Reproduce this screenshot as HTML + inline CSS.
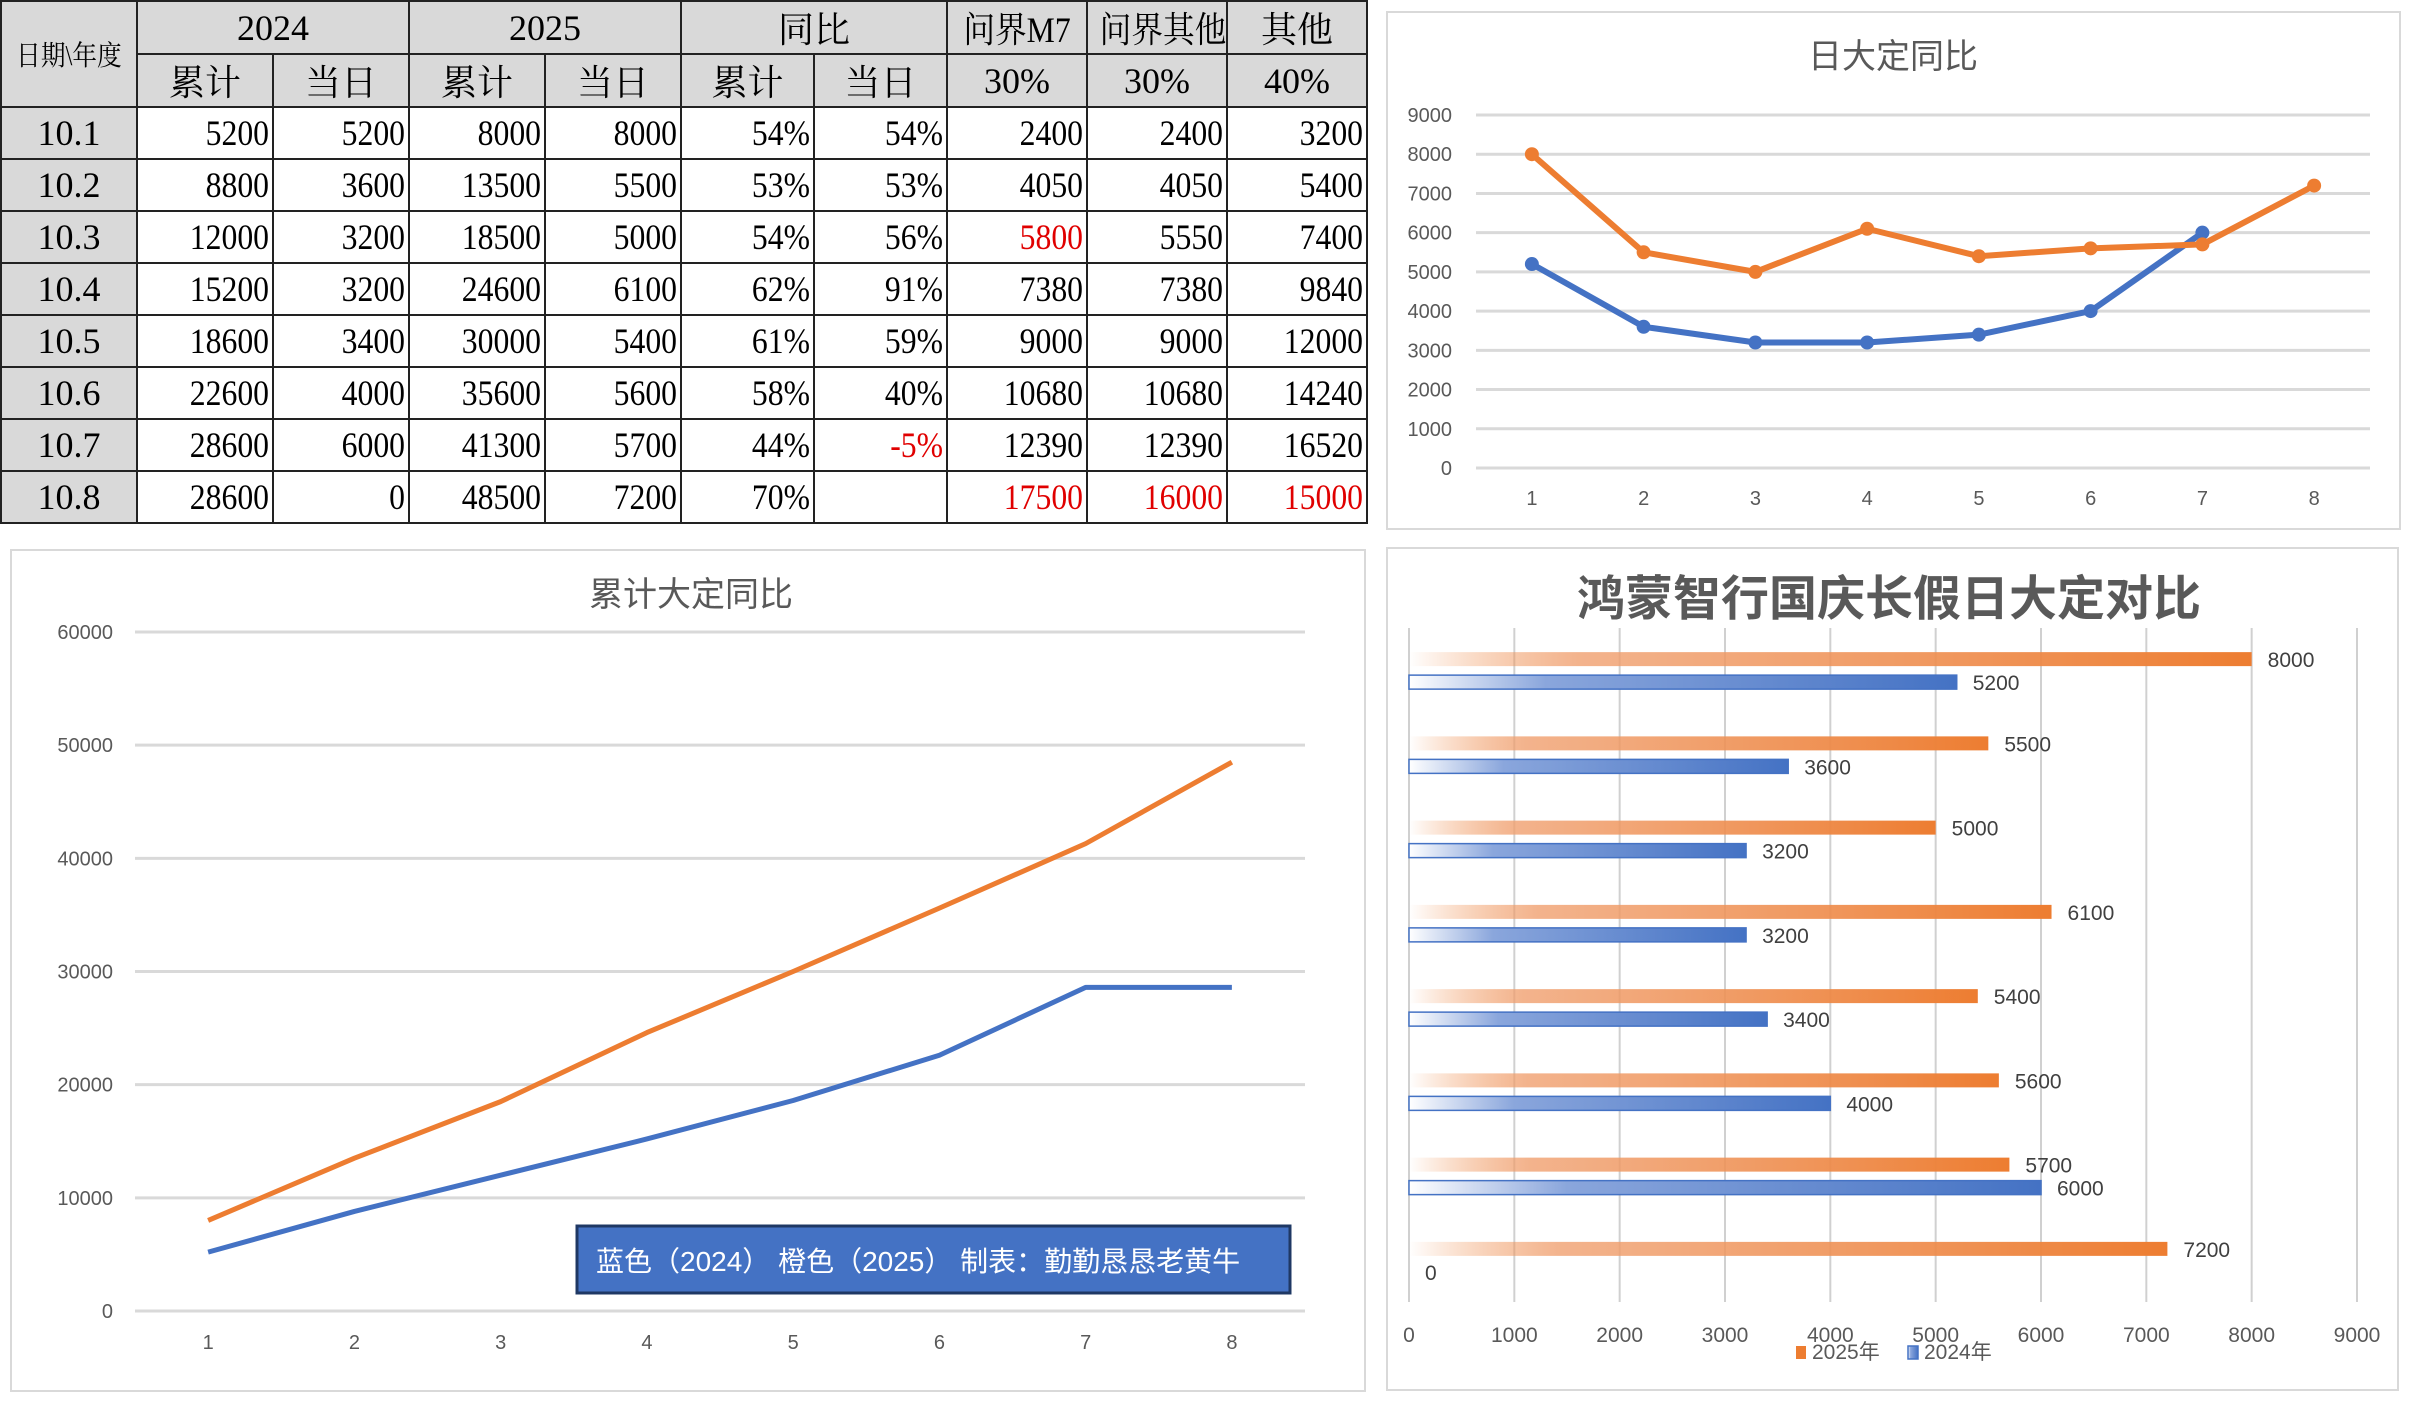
<!DOCTYPE html>
<html><head><meta charset="utf-8">
<style>
html,body{margin:0;padding:0;background:#fff;width:2417px;height:1405px;overflow:hidden;position:relative;font-family:"Liberation Sans","Noto Sans CJK SC",sans-serif}
table{position:absolute;left:0;top:0;border-collapse:collapse;table-layout:fixed;width:1366px;font-family:"Liberation Serif","Noto Serif CJK SC",serif;font-size:36px;color:#000}
tr{height:52px}
td{border:2px solid #222;height:50px;padding:0 3px;text-align:right;white-space:nowrap;overflow:hidden;box-sizing:border-box}
td span{display:inline-block;transform:scaleX(0.88);transform-origin:right center}
td.h{background:#d9d9d9;text-align:center}
td.h span{transform-origin:center center}
td.r{color:#e00000}
svg{position:absolute;left:0;top:0}
</style></head><body>
<table>
<colgroup><col style="width:136px"><col style="width:136px"><col style="width:136px"><col style="width:136px"><col style="width:136px"><col style="width:133px"><col style="width:133px"><col style="width:140px"><col style="width:140px"><col style="width:140px"></colgroup>
<tr><td class="h" rowspan="2" style="font-size:28px"><span>日期\年度</span></td><td class="h" colspan="2">2024</td><td class="h" colspan="2">2025</td><td class="h" colspan="2">同比</td><td class="h"><span>问界M7</span></td><td class="h"><span>问界其他</span></td><td class="h">其他</td></tr>
<tr><td class="h">累计</td><td class="h">当日</td><td class="h">累计</td><td class="h">当日</td><td class="h">累计</td><td class="h">当日</td><td class="h">30%</td><td class="h">30%</td><td class="h">40%</td></tr>
<tr><td class="h">10.1</td><td><span>5200</span></td><td><span>5200</span></td><td><span>8000</span></td><td><span>8000</span></td><td><span>54%</span></td><td><span>54%</span></td><td><span>2400</span></td><td><span>2400</span></td><td><span>3200</span></td></tr>
<tr><td class="h">10.2</td><td><span>8800</span></td><td><span>3600</span></td><td><span>13500</span></td><td><span>5500</span></td><td><span>53%</span></td><td><span>53%</span></td><td><span>4050</span></td><td><span>4050</span></td><td><span>5400</span></td></tr>
<tr><td class="h">10.3</td><td><span>12000</span></td><td><span>3200</span></td><td><span>18500</span></td><td><span>5000</span></td><td><span>54%</span></td><td><span>56%</span></td><td class="r"><span>5800</span></td><td><span>5550</span></td><td><span>7400</span></td></tr>
<tr><td class="h">10.4</td><td><span>15200</span></td><td><span>3200</span></td><td><span>24600</span></td><td><span>6100</span></td><td><span>62%</span></td><td><span>91%</span></td><td><span>7380</span></td><td><span>7380</span></td><td><span>9840</span></td></tr>
<tr><td class="h">10.5</td><td><span>18600</span></td><td><span>3400</span></td><td><span>30000</span></td><td><span>5400</span></td><td><span>61%</span></td><td><span>59%</span></td><td><span>9000</span></td><td><span>9000</span></td><td><span>12000</span></td></tr>
<tr><td class="h">10.6</td><td><span>22600</span></td><td><span>4000</span></td><td><span>35600</span></td><td><span>5600</span></td><td><span>58%</span></td><td><span>40%</span></td><td><span>10680</span></td><td><span>10680</span></td><td><span>14240</span></td></tr>
<tr><td class="h">10.7</td><td><span>28600</span></td><td><span>6000</span></td><td><span>41300</span></td><td><span>5700</span></td><td><span>44%</span></td><td class="r"><span>-5%</span></td><td><span>12390</span></td><td><span>12390</span></td><td><span>16520</span></td></tr>
<tr><td class="h">10.8</td><td><span>28600</span></td><td><span>0</span></td><td><span>48500</span></td><td><span>7200</span></td><td><span>70%</span></td><td></td><td class="r"><span>17500</span></td><td class="r"><span>16000</span></td><td class="r"><span>15000</span></td></tr>
</table>
<svg id="s" width="2417" height="1405">
<defs>
<linearGradient id="go" x1="0" x2="1"><stop offset="0" stop-color="#ed7d31" stop-opacity="0"/><stop offset="0.2" stop-color="#f0a070" stop-opacity="0.8"/><stop offset="1" stop-color="#ed7d31"/></linearGradient>
<linearGradient id="gb" x1="0" x2="1"><stop offset="0" stop-color="#fff"/><stop offset="0.25" stop-color="#8aa6dc"/><stop offset="1" stop-color="#4472c4"/></linearGradient>
</defs>
</svg>
<script>
const cats=[1,2,3,4,5,6,7,8];
const daily2024=[5200,3600,3200,3200,3400,4000,6000];
const daily2025=[8000,5500,5000,6100,5400,5600,5700,7200];
const cum2024=[5200,8800,12000,15200,18600,22600,28600,28600];
const cum2025=[8000,13500,18500,24600,30000,35600,41300,48500];
const bar2024=[5200,3600,3200,3200,3400,4000,6000,0];
const bar2025=[8000,5500,5000,6100,5400,5600,5700,7200];
const dailyTicks=[0,1000,2000,3000,4000,5000,6000,7000,8000,9000];
const cumTicks=[0,10000,20000,30000,40000,50000,60000];
const barTicks=[0,1000,2000,3000,4000,5000,6000,7000,8000,9000];
const S=document.getElementById('s');const NS='http://www.w3.org/2000/svg';
function mk(t,a,txt){const e=document.createElementNS(NS,t);for(const k in a)e.setAttribute(k,a[k]);if(txt!==undefined)e.textContent=txt;S.appendChild(e);return e;}
let f;
f=mk('rect',{x:1387,y:12,width:1013,height:517,fill:'#fff',stroke:'#d9d9d9','stroke-width':2});


f=mk('rect',{x:11,y:550,width:1354,height:841,fill:'#fff',stroke:'#d9d9d9','stroke-width':2});


f=mk('rect',{x:1387,y:548,width:1011,height:842,fill:'#fff',stroke:'#d9d9d9','stroke-width':2});


function lineChart(o){
 const x=i=>o.x0+(o.x1-o.x0)/cats.length*(i+0.5);
 const y=v=>o.yb-(v/o.max)*(o.yb-o.yt);
 let t=mk('text',{x:o.tx,y:o.ty,'font-size':o.tfs,fill:'#595959','text-anchor':'middle'},o.title);
 
 
 o.ticks.forEach(v=>{
  const g=mk('line',{x1:o.x0,x2:o.x1,y1:y(v),y2:y(v),stroke:'#d9d9d9','stroke-width':3});
  
  
  const l=mk('text',{x:o.lx,y:y(v)+7,'font-size':o.fs,fill:'#595959','text-anchor':'end'},String(v));
  
  
 });
 cats.forEach((c,i)=>{const l=mk('text',{x:x(i),y:o.xly,'font-size':o.fs,fill:'#595959','text-anchor':'middle'},String(c));
  
  });
 o.series.forEach(s=>{
  const p=mk('polyline',{points:s.d.map((v,i)=>x(i)+','+y(v)).join(' '),fill:'none',stroke:s.c,'stroke-width':o.sw,'stroke-linejoin':'round'});
  
  
  if(o.markers)s.d.forEach((v,i)=>{const m=mk('circle',{cx:x(i),cy:y(v),r:7,fill:s.c});
   
   });
 });
}
lineChart({name:'daily',title:'日大定同比',tx:1893,ty:68,tfs:34,x0:1476,x1:2370,yt:115,yb:468,max:9000,ticks:dailyTicks,lx:1452,xly:505,fs:20,sw:6,markers:true,
 series:[{d:daily2024,c:'#4472c4',n:'line-2024-daily'},{d:daily2025,c:'#ed7d31',n:'line-2025-daily'}]});
lineChart({name:'cumulative',title:'累计大定同比',tx:691,ty:606,tfs:34,x0:135,x1:1305,yt:632,yb:1311,max:60000,ticks:cumTicks,lx:113,xly:1349,fs:20,sw:5,markers:false,
 series:[{d:cum2024,c:'#4472c4',n:'line-2024-cumulative'},{d:cum2025,c:'#ed7d31',n:'line-2025-cumulative'}]});
let bx=mk('rect',{x:577,y:1226,width:713,height:67,fill:'#4472c4',stroke:'#1f3864','stroke-width':3});


let bt=mk('text',{x:596,y:1271,'font-size':28,fill:'#fff'},'蓝色（2024） 橙色（2025） 制表：勤勤恳恳老黄牛');


(function(){
 const X0=1409,X1=2357,YT=628,YB=1302,MAX=9000;
 const x=v=>X0+(v/MAX)*(X1-X0);
 const band=(YB-YT)/bar2025.length;
 let t=mk('text',{x:1889,y:615,'font-size':48,'font-weight':'bold',fill:'#595959','text-anchor':'middle'},'鸿蒙智行国庆长假日大定对比');
 
 
 barTicks.forEach(v=>{
  const g=mk('line',{x1:x(v),x2:x(v),y1:YT,y2:YB,stroke:'#d0d0d0','stroke-width':2});
  
  
  const l=mk('text',{x:x(v),y:1342,'font-size':21,fill:'#595959','text-anchor':'middle'},String(v));
  
  
 });
 bar2025.forEach((v,i)=>{
  const c=YT+band*(i+0.5);
  const b=mk('rect',{x:X0,y:c-18,width:x(v)-X0,height:14,fill:'url(#go)'});
  
  
  const l=mk('text',{x:x(v)+16,y:c-3,'font-size':21,fill:'#404040'},String(v));
  
  
  const w=bar2024[i];
  if(w>0){const b2=mk('rect',{x:X0,y:c+5,width:x(w)-X0,height:14,fill:'url(#gb)',stroke:'#4472c4','stroke-width':1.5});
   
   }
  const l2=mk('text',{x:x(w)+16,y:c+20,'font-size':21,fill:'#404040'},String(w));
  
  
 });
 let r=mk('rect',{x:1796,y:1346,width:10,height:13,fill:'#ed7d31'});
 
 
 let lt=mk('text',{x:1812,y:1359,'font-size':21,fill:'#595959'},'2025年');
 
 
 r=mk('rect',{x:1908,y:1346,width:10,height:13,fill:'url(#gb)',stroke:'#4472c4','stroke-width':1.5});
 
 
 lt=mk('text',{x:1924,y:1359,'font-size':21,fill:'#595959'},'2024年');
 
 
})();
</script>
</body></html>
